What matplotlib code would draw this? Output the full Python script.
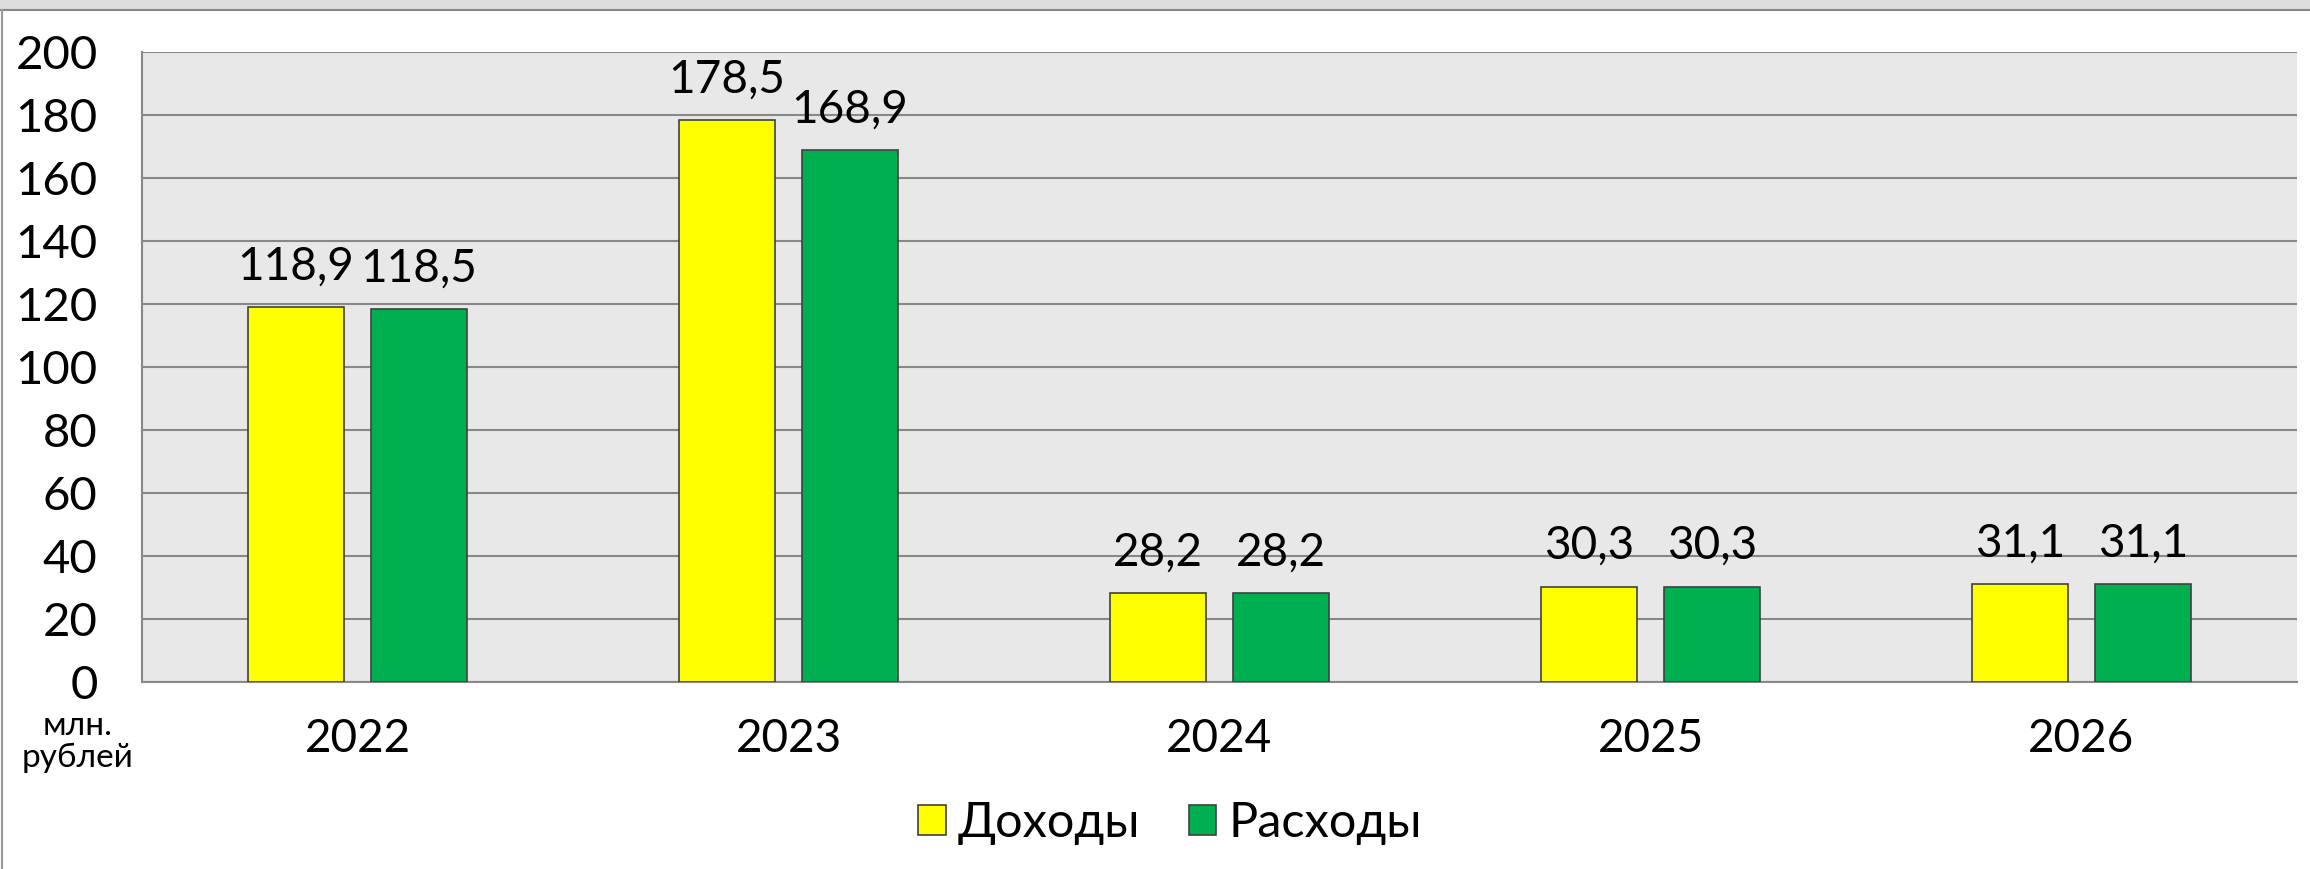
import matplotlib
matplotlib.use("Agg")
import matplotlib.pyplot as plt
from matplotlib.lines import Line2D
from matplotlib.patches import Rectangle
import numpy as np

years = ["2022", "2023", "2024", "2025", "2026"]
income = [118.9, 178.5, 28.2, 30.3, 31.1]
expense = [118.5, 168.9, 28.2, 30.3, 31.1]
labels = ["Доходы", "Расходы"]
yticks = list(range(0, 201, 20))

plt.rcParams["font.family"] = ["Lato", "DejaVu Sans"]

W, H = 2310, 869
fig = plt.figure(figsize=(W / 100, H / 100), dpi=100)
ax = fig.add_axes([142 / W, 1 - 682 / H, (2297 - 142) / W, (682 - 52) / H])
ax.set_facecolor("#e8e8e8")

x = np.arange(len(years))
off = 0.1427
w = 0.225
b1 = ax.bar(x - off, income, w, color="#ffff00", edgecolor="#404040", linewidth=1.2, zorder=3, label=labels[0])
b2 = ax.bar(x + off, expense, w, color="#00b050", edgecolor="#404040", linewidth=1.2, zorder=3, label=labels[1])

def fmt(v):
    return f"{v:.1f}".replace(".", ",")

for bars, vals in ((b1, income), (b2, expense)):
    for r, v in zip(bars, vals):
        ax.annotate(fmt(v), (r.get_x() + r.get_width() / 2, v), xytext=(0, 14),
                    textcoords="offset points", ha="center", va="bottom", fontsize=33)

ax.set_xlim(-0.5, len(years) - 0.5)
ax.set_ylim(0, 200)
ax.set_yticks(yticks)
ax.set_yticklabels([str(t) for t in yticks], fontsize=34)
ax.set_xticks(x)
ax.set_xticklabels(years, fontsize=33)
ax.tick_params(axis="y", length=0, pad=32)
ax.tick_params(axis="x", length=0, pad=26)
ax.yaxis.grid(True, color="#888888", linewidth=1.5, zorder=0)
ax.set_axisbelow(True)
for s in ("top", "right"):
    ax.spines[s].set_visible(False)
for s in ("left", "bottom"):
    ax.spines[s].set_color("#888888")
    ax.spines[s].set_linewidth(1.5)

fig.text(78 / W, 1 - 742 / H, "млн.\nрублей", ha="center", va="center", fontsize=24, linespacing=1.05)

fig.legend(loc="center", bbox_to_anchor=(1170 / W, 1 - 823 / H), ncol=2, frameon=False,
           fontsize=35, handlelength=0.56, handleheight=0.56, handletextpad=0.25,
           columnspacing=1.0)

# outer frame
fig.add_artist(Rectangle((0, 1 - 9 / H), 1, 9 / H, transform=fig.transFigure,
                         facecolor="#dcdcdc", edgecolor="none"))
fig.add_artist(Line2D([0, 1], [1 - 10 / H, 1 - 10 / H], transform=fig.transFigure,
                      color="#888888", linewidth=1.5))
fig.add_artist(Line2D([1.5 / W, 1.5 / W], [0, 1 - 10 / H], transform=fig.transFigure,
                      color="#999999", linewidth=1.5))

fig.savefig("out.png", dpi=100)
